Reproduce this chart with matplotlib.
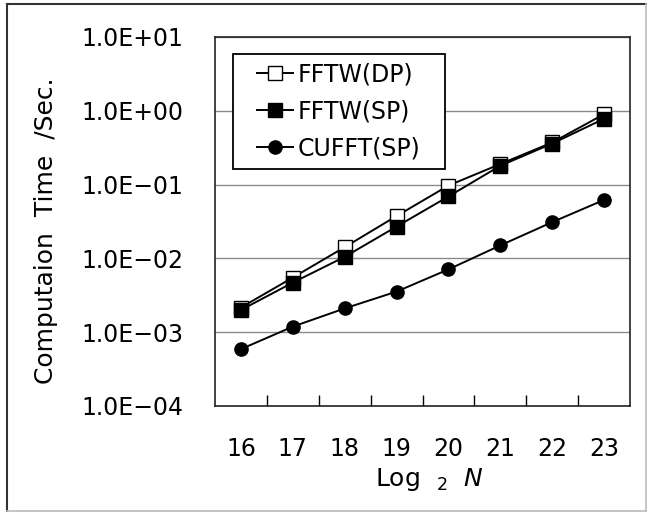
import numpy as np
import matplotlib
matplotlib.use("Agg")
import matplotlib.pyplot as plt
from matplotlib.lines import Line2D
from matplotlib.legend_handler import HandlerLine2D
from matplotlib.ticker import FixedLocator, FuncFormatter

log2_n = [16, 17, 18, 19, 20, 21, 22, 23]
fftw_dp = [2.16e-3, 5.5e-3, 1.42e-2, 3.75e-2, 9.7e-2, 1.9e-1, 3.72e-1, 9.0e-1]
fftw_sp = [2.0e-3, 4.7e-3, 1.05e-2, 2.7e-2, 6.9e-2, 1.8e-1, 3.6e-1, 7.8e-1]
cufft_sp = [5.9e-4, 1.19e-3, 2.1e-3, 3.55e-3, 7.1e-3, 1.5e-2, 3.1e-2, 6.2e-2]
y_ticks = [1e-4, 1e-3, 1e-2, 1e-1, 1e0, 1e1]

plt.rcParams["font.family"] = ["DejaVu Sans"]

fig = plt.figure(figsize=(6.49, 5.13), dpi=100)
ax = fig.add_axes([215 / 649, 1 - 406 / 513, 415 / 649, 369 / 513])

x = np.arange(len(log2_n))
ax.plot(x, fftw_sp, color="black", lw=1.4, marker="s", ms=10,
        mfc="black", mec="black", label="FFTW(SP)", zorder=3)
ax.plot(x, fftw_dp, color="black", lw=1.4, marker="s", ms=10,
        mfc="white", mec="black", mew=1.0, label="FFTW(DP)", zorder=2)
ax.plot(x, cufft_sp, color="black", lw=1.4, marker="o", ms=9.5,
        mfc="black", mec="black", label="CUFFT(SP)", zorder=3)

ax.set_yscale("log")
ax.set_ylim(1e-4, 1e1)
ax.set_xlim(-0.5, len(log2_n) - 0.5)

ax.yaxis.set_major_locator(FixedLocator(y_ticks))
ax.yaxis.set_minor_locator(FixedLocator([]))
ax.yaxis.set_major_formatter(FuncFormatter(lambda v, p: f"{v:.1E}".replace("-", "\u2212")))
ax.tick_params(axis="y", length=0, pad=23, labelsize=17)
ax.grid(axis="y", color="#8a8a8a", lw=1.0)

ax.set_xticks(x)
ax.set_xticklabels([str(v) for v in log2_n])
ax.xaxis.set_minor_locator(FixedLocator(x[:-1] + 0.5))
ax.tick_params(axis="x", which="major", length=0, pad=22, labelsize=17)
ax.tick_params(axis="x", which="minor", direction="in", length=8, width=1.0)

for s in ax.spines.values():
    s.set_linewidth(1.2)
    s.set_color("#222222")

ax.set_ylabel("Computaion  Time  /Sec.", fontsize=18)
ax.yaxis.set_label_coords(-0.378, 0.474)
ax.set_xlabel(r"Log  $_{2}$  $N$", fontsize=18)
ax.xaxis.set_label_coords(0.518, -0.163)

handles = [
    Line2D([], [], color="black", lw=1.4, marker="s", ms=10, mfc="white", mec="black"),
    Line2D([], [], color="black", lw=1.4, marker="s", ms=10, mfc="black", mec="black"),
    Line2D([], [], color="black", lw=1.4, marker="o", ms=9.5, mfc="black", mec="black"),
]
leg = ax.legend(handles, ["FFTW(DP)", "FFTW(SP)", "CUFFT(SP)"],
                loc="upper left", mode="expand",
                bbox_to_anchor=(18 / 415, 0.5, 212 / 415, 0.5 - 17 / 369),
                handler_map={Line2D: HandlerLine2D(xpad=0.67)},
                fontsize=17, frameon=True, fancybox=False, framealpha=1,
                edgecolor="black", handlelength=2.17, handletextpad=0.2,
                labelspacing=0.55, borderpad=0.35, borderaxespad=0)
leg.get_frame().set_linewidth(1.3)

# figure border
fig.add_artist(Line2D([7 / 649, 7 / 649], [1 - 511 / 513, 1 - 4 / 513], color="#333333", lw=1.5))
fig.add_artist(Line2D([7 / 649, 646 / 649], [1 - 4 / 513, 1 - 4 / 513], color="#333333", lw=1.5))
fig.add_artist(Line2D([646 / 649, 646 / 649], [1 - 511 / 513, 1 - 4 / 513], color="#bbbbbb", lw=1.2))
fig.add_artist(Line2D([7 / 649, 646 / 649], [1 - 511 / 513, 1 - 511 / 513], color="#bbbbbb", lw=1.2))

fig.savefig("out.png", dpi=100, facecolor="white")
